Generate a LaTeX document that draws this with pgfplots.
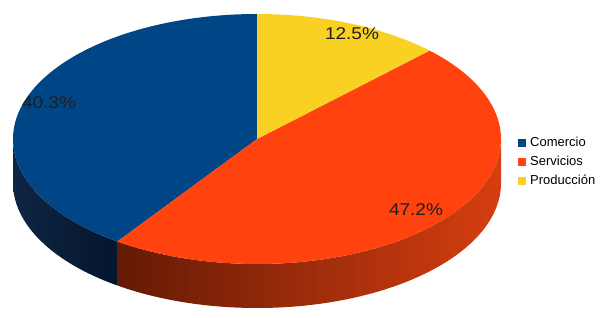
\documentclass[border=0pt]{standalone}
\usepackage{pgfplots}
\pgfplotsset{compat=1.18}
\usepackage{pgfplotstable}
\usepackage{fontspec}
\setmainfont{Liberation Sans}
\newfontfamily\labelfont[FakeStretch=1.12]{Liberation Sans}
\definecolor{comercio}{HTML}{004586}
\definecolor{servicios}{HTML}{FF420E}
\definecolor{produccion}{HTML}{F8D123}
\definecolor{cL}{RGB}{15,37,69}
\definecolor{cM}{RGB}{10,31,58}
\definecolor{cR}{RGB}{4,22,44}
\definecolor{sL}{RGB}{100,26,5}
\definecolor{sM}{RGB}{158,43,11}
\definecolor{sR}{RGB}{214,62,16}
\pgfplotstableread{
label value
Comercio 40.3
Servicios 47.2
Produccion 12.5
}\piedata
\begin{document}
\begin{tikzpicture}
\pgfplotstablegetelem{0}{value}\of\piedata \let\vA\pgfplotsretval
\pgfplotstablegetelem{1}{value}\of\piedata \let\vB\pgfplotsretval
\pgfplotstablegetelem{2}{value}\of\piedata \let\vC\pgfplotsretval
\pgfmathsetmacro\aA{90}
\pgfmathsetmacro\aB{\aA+3.6*\vA}
\pgfmathsetmacro\aC{\aB+3.6*\vB}
\pgfmathsetmacro\aD{\aC+3.6*\vC}
\def\cx{257}\def\cy{179}\def\rx{244}\def\ry{125}\def\hh{44}
\pgfmathsetmacro\bBx{\cx+\rx*cos(\aB)}
\pgfmathsetmacro\bBy{\cy+\ry*sin(\aB)-\hh}
\pgfmathsetmacro\bRx{\cx+\rx}
\pgfmathsetmacro\bRy{\cy-\hh}
\begin{axis}[
  width=611bp, height=318bp, scale only axis,
  xmin=0, xmax=611, ymin=0, ymax=318,
  hide axis, clip=false,
  legend style={at={(axis cs:518,182)}, anchor=north west, draw=none, fill=none,
    font=\fontsize{13bp}{15bp}\selectfont, row sep=4.5bp, inner sep=0pt,
    nodes={inner sep=1bp, text height=9.5bp, text depth=3bp}},
  legend cell align=left,
  legend image code/.code={\fill[#1,draw=none] (0bp,-4bp) rectangle (8bp,4bp);
    \path[draw=none,fill=none] (11bp,0bp);},
]
\path (axis cs:0,0) rectangle (axis cs:611,318);
% sides
\addplot[forget plot, draw=none, left color=cL, middle color=cM, right color=cR,
  variable=\t, domain=180:\aB, samples=80]
  ({\cx+\rx*cos(\t)}, {\cy+\ry*sin(\t)})
  -- (axis cs:\bBx,\bBy) arc[start angle=\aB, end angle=180, x radius=244bp, y radius=125bp] -- cycle;
\addplot[forget plot, draw=none, left color=sL, middle color=sM, right color=sR,
  variable=\t, domain=\aB:360, samples=120]
  ({\cx+\rx*cos(\t)}, {\cy+\ry*sin(\t)})
  -- (axis cs:\bRx,\bRy) arc[start angle=360, end angle=\aB, x radius=244bp, y radius=125bp] -- cycle;
% top faces
\addplot[forget plot, draw=none, fill=comercio, variable=\t, domain=\aA:\aB, samples=120]
  ({\cx+\rx*cos(\t)}, {\cy+\ry*sin(\t)}) -- (axis cs:\cx,\cy) -- cycle;
\addplot[forget plot, draw=none, fill=servicios, variable=\t, domain=\aB:\aC, samples=120]
  ({\cx+\rx*cos(\t)}, {\cy+\ry*sin(\t)}) -- (axis cs:\cx,\cy) -- cycle;
\addplot[forget plot, draw=none, fill=produccion, variable=\t, domain=\aC:\aD, samples=60]
  ({\cx+\rx*cos(\t)}, {\cy+\ry*sin(\t)}) -- (axis cs:\cx,\cy) -- cycle;
% labels
\node[font=\labelfont\fontsize{17bp}{20bp}\selectfont, text=black!88] at (axis cs:352,284) {12.5\%};
\node[font=\labelfont\fontsize{17bp}{20bp}\selectfont, text=black!88] at (axis cs:49,215) {40.3\%};
\node[font=\labelfont\fontsize{17bp}{20bp}\selectfont, text=black!88] at (axis cs:416,108) {47.2\%};
% legend
\addlegendimage{fill=comercio}
\addlegendentry{Comercio}
\addlegendimage{fill=servicios}
\addlegendentry{Servicios}
\addlegendimage{fill=produccion}
\addlegendentry{Producción}
\end{axis}
\end{tikzpicture}
\end{document}
